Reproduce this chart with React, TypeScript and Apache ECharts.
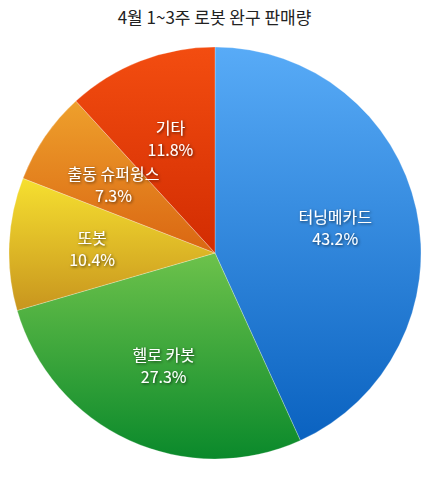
import { useEffect, useRef } from 'react';
import * as echarts from 'echarts';

const TITLE = '4월 1~3주 로봇 완구 판매량';
const NAMES = ['터닝메카드', '헬로 카봇', '또봇', '출동 슈퍼윙스', '기타'];
const SHARES = [43.2, 27.3, 10.4, 7.3, 11.8];
// top / bottom colour of each slice's vertical gradient
const TOP_COLORS = ['#58abf7', '#6dc24b', '#f6e030', '#eea02c', '#f34d10'];
const BOTTOM_COLORS = ['#0a62c0', '#0a892b', '#c8951e', '#da6612', '#d22c02'];

const FONT = "'Noto Sans CJK KR', 'Noto Sans', sans-serif";

export default function App() {
  const chartRef = useRef<HTMLDivElement>(null);

  useEffect(() => {
    if (!chartRef.current) return;
    const chart = echarts.init(chartRef.current, undefined, { renderer: 'svg' });

    const sliceData = NAMES.map((name, i) => ({
      name,
      value: SHARES[i],
      itemStyle: {
        color: new echarts.graphic.LinearGradient(0, 0, 0, 1, [
          { offset: 0, color: TOP_COLORS[i] },
          { offset: 1, color: BOTTOM_COLORS[i] },
        ]),
      },
    }));

    const labelData = NAMES.map((name, i) => ({ name, value: SHARES[i] }));

    const option: echarts.EChartsOption = {
      animation: false,
      title: {
        text: TITLE,
        left: 'center',
        top: 3,
        textStyle: { color: '#222', fontSize: 17, fontWeight: 'normal', fontFamily: FONT },
      },
      series: [
        {
          type: 'pie',
          center: [215, 253],
          radius: [0, 206],
          startAngle: 90,
          clockwise: true,
          silent: true,
          label: { show: false },
          labelLine: { show: false },
          itemStyle: { borderColor: 'rgba(255,255,255,0.5)', borderWidth: 0.5 },
          data: sliceData,
        },
        {
          // transparent ring used only to place labels at ~120px from centre
          type: 'pie',
          center: [215, 253],
          radius: [34, 206],
          startAngle: 90,
          clockwise: true,
          silent: true,
          itemStyle: { color: 'rgba(0,0,0,0)' },
          labelLine: { show: false },
          label: {
            show: true,
            position: 'inside',
            formatter: '{b}\n{c}%',
            color: '#fff',
            fontSize: 16,
            lineHeight: 22,
            fontFamily: FONT,
            textShadowColor: 'rgba(0,0,0,0.65)',
            textShadowBlur: 3,
            textShadowOffsetX: 1,
            textShadowOffsetY: 1,
          },
          data: labelData,
        },
      ],
    };

    chart.setOption(option);
    return () => chart.dispose();
  }, []);

  return (
    <div
      ref={chartRef}
      style={{ position: 'absolute', left: 0, top: 0, width: 429, height: 481, background: '#fff' }}
    />
  );
}
